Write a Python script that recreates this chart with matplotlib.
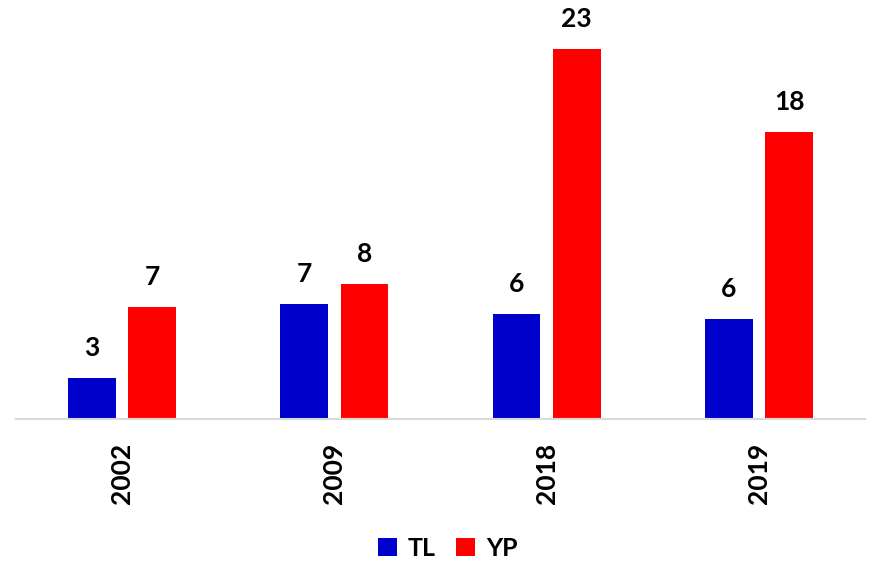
import matplotlib
matplotlib.use("Agg")
import matplotlib.pyplot as plt
import numpy as np

years = ["2002", "2009", "2018", "2019"]
series_names = ["TL", "YP"]
tl_values = [2.52, 7.07, 6.46, 6.17]
yp_values = [6.91, 8.32, 22.74, 17.61]
colors = ["#0000CC", "#FF0000"]

plt.rcParams['font.family'] = ['Lato', 'DejaVu Sans']

fig = plt.figure(figsize=(8.83, 5.64), dpi=100)
ax = fig.add_axes([16/883, (564-419.3)/564, 849/883, (419.3-11.8)/564])

x = np.arange(len(years))
w = 0.224
off = 0.142
bars = []
for vals, name, col, sgn in [(tl_values, "TL", colors[0], -1), (yp_values, "YP", colors[1], 1)]:
    b = ax.bar(x + sgn*off, vals, width=w, color=col, label=name, zorder=2)
    bars.append(b)
    for xi, v in zip(x + sgn*off, vals):
        ax.annotate(f"{v:.0f}", (xi, v), xytext=(0, 13), textcoords="offset points",
                    ha="center", va="bottom", fontsize=19, fontweight="bold", color="black")

ax.set_xlim(-0.5, 3.5)
ax.set_ylim(0, 25)
ax.set_yticks([])
ax.set_xticks(x)
ax.set_xticklabels(years, rotation=90, fontsize=19, fontweight="bold")
ax.tick_params(axis="x", length=0, pad=17)
for s in ["top", "right", "left"]:
    ax.spines[s].set_visible(False)
ax.spines["bottom"].set_color("#D9D9D9")
ax.spines["bottom"].set_linewidth(1.5)

leg = fig.legend(handles=bars, labels=series_names, loc="center", bbox_to_anchor=(0.507, 0.028),
                 ncol=2, frameon=False, handlelength=0.75, handleheight=0.75,
                 handletextpad=0.45, columnspacing=0.8,
                 prop={"size": 18, "weight": "bold"})

fig.savefig("out.png", dpi=100)
